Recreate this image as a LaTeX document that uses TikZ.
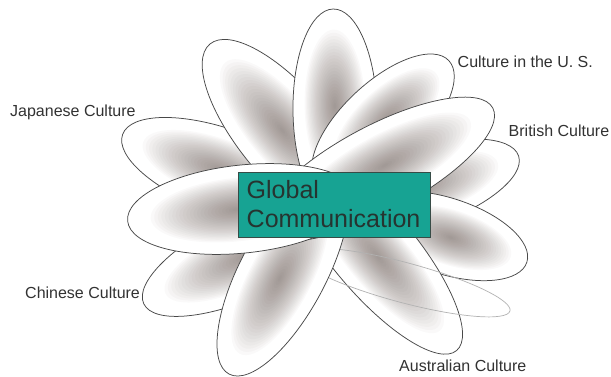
\documentclass[tikz,border=0pt]{standalone}
\usepackage{fontspec}
\setmainfont{Liberation Sans}

\definecolor{petalspot}{RGB}{82,64,57}
\definecolor{petalline}{RGB}{72,72,72}
\definecolor{ghostline}{RGB}{178,178,178}
\definecolor{boxfill}{RGB}{23,163,147}
\definecolor{boxline}{RGB}{55,75,70}
\definecolor{labeltext}{RGB}{50,50,50}
\definecolor{titletext}{RGB}{38,52,48}

\tikzset{
  petaledge/.style={draw=petalline, line width=0.75pt},
  ghostedge/.style={draw=ghostline, line width=0.7pt},
  glowlayer/.style={fill=petalspot, fill opacity=0.027},
  cultlabel/.style={text=labeltext, inner sep=0pt, anchor=base west,
    font=\fontsize{16}{19}\selectfont},
  titlebox/.style={fill=boxfill, draw=boxline, line width=0.6pt},
  titletxt/.style={text=titletext, inner sep=0pt, anchor=base west,
    font=\fontsize{25}{29}\selectfont}
}

% petal: centre x, centre y, direction of the tip (degrees), half length, half width
% the grey core is built from nested translucent ellipses
\newcommand{\flowerpetal}[5]{%
  \begin{scope}[transform canvas={shift={(#1,#2)},rotate=#3}]
    \begin{scope}
      \clip (0,0) ellipse [x radius=#4, y radius=#5];
      \fill[white] (-#4,-#5) rectangle (#4,#5);
      \foreach \k in {1,...,24}{
        \path[glowlayer] ({0.06*#4},0)
          ellipse [x radius={0.74*#4*\k/24}, y radius={0.72*#5*\k/24}];
      }
    \end{scope}
    \draw[petaledge] (0,0) ellipse [x radius=#4, y radius=#5];
  \end{scope}}

\begin{document}
\begin{tikzpicture}[x=1pt, y=-1pt]
  \path[use as bounding box, fill=white] (0,0) rectangle (611,377);

  % petals, from the back to the front
  \flowerpetal{414}{190}{18}{110}{40}     % right, behind the British petal
  \flowerpetal{446}{236}{-18}{85}{38}     % right, lower
  \flowerpetal{252.5}{253}{205}{120}{42}  % Chinese
  \flowerpetal{373}{251}{-50}{130}{42}    % Australian
  \begin{scope}[transform canvas={shift={(403.7,282.5)},rotate=-15}]
    \draw[ghostedge] (0,0) ellipse [x radius=110, y radius=20];
  \end{scope}
  \flowerpetal{283}{272.5}{242}{115}{43}  % bottom
  \flowerpetal{226}{172}{160}{110}{42}    % Japanese
  \flowerpetal{287}{136}{130}{120}{46}    % upper left
  \flowerpetal{335}{112}{91}{103}{42}     % top
  \flowerpetal{383}{122}{43}{90}{40}      % U.S.
  \flowerpetal{378}{169}{28}{130}{43}     % British
  \flowerpetal{243}{209}{186}{116}{44}    % left

  % centre box
  \path[titlebox] (238,172) rectangle (430,237);
  \node[titletxt] (global) at (246.5,199) {Global};
  \node[titletxt] (communication) at (246.5,228) {Communication};

  % labels
  \node[cultlabel] (us) at (457.5,68) {Culture in the U. S.};
  \node[cultlabel] (japanese) at (10,117) {Japanese Culture};
  \node[cultlabel] (british) at (508.5,137) {British Culture};
  \node[cultlabel] (chinese) at (25,298) {Chinese Culture};
  \node[cultlabel] (australian) at (399,371.5) {Australian Culture};
\end{tikzpicture}
\end{document}
